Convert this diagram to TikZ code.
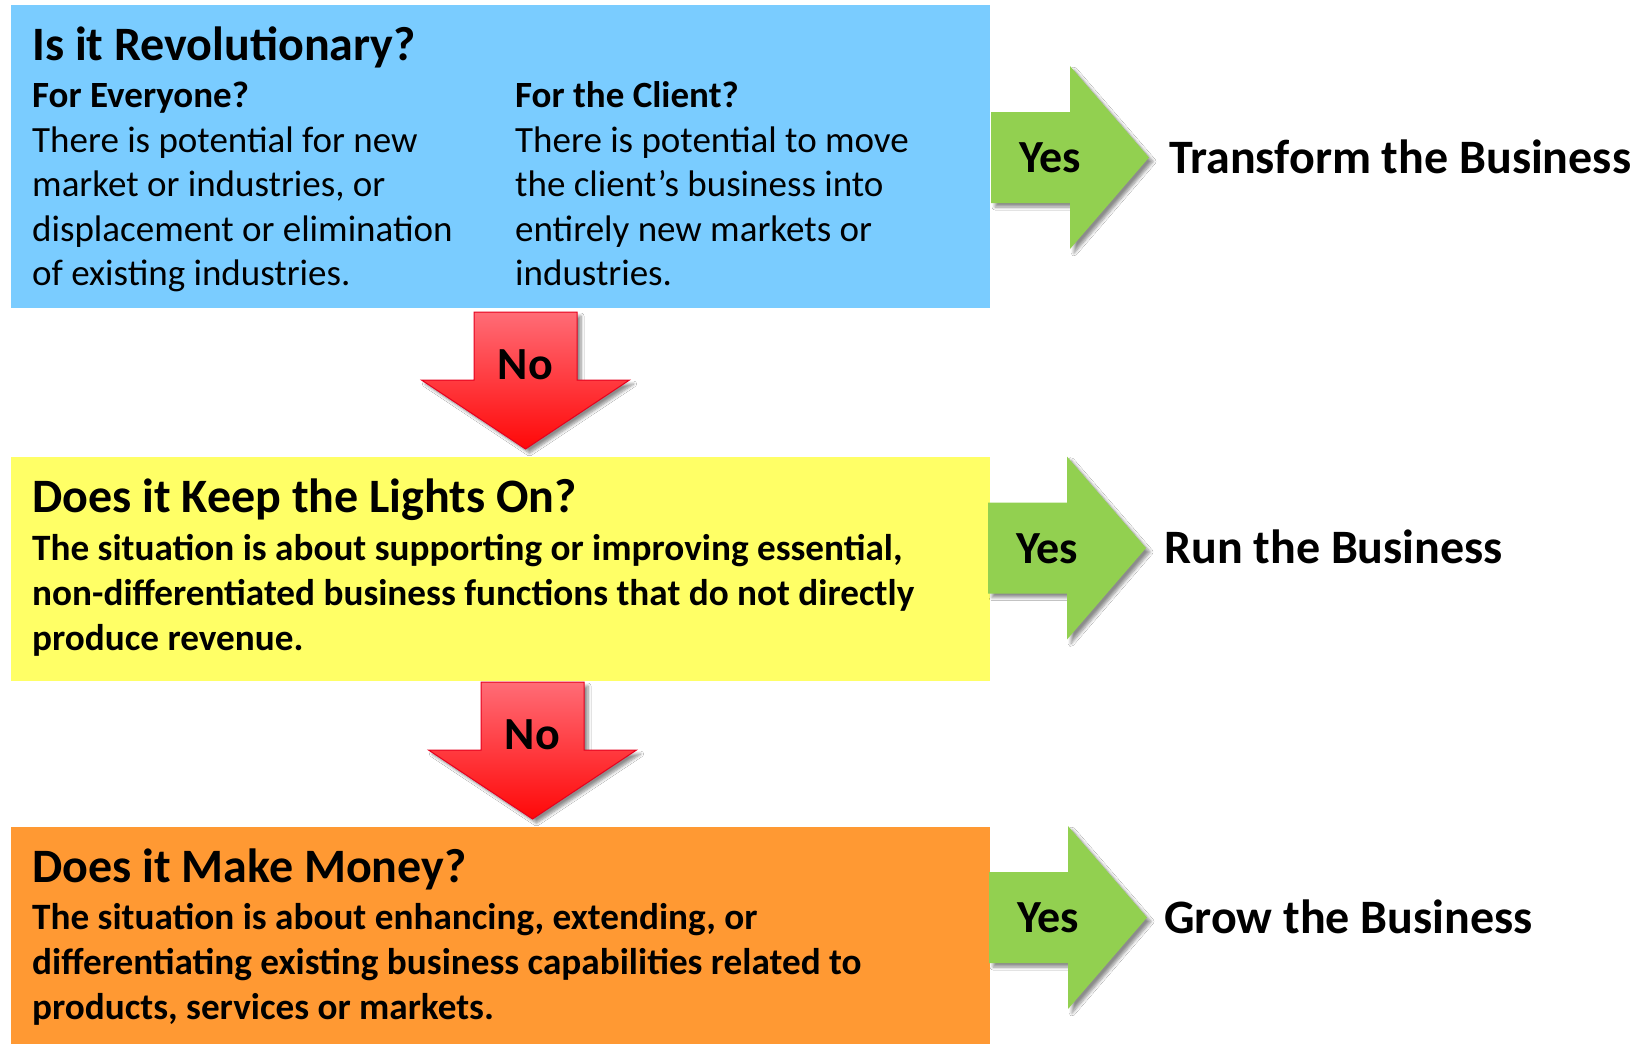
\documentclass[tikz,border=0pt]{standalone}
\usepackage{fontspec}
\setmainfont{Carlito}
\usetikzlibrary{shadows.blur}
\definecolor{boxblue}{RGB}{122,204,255}
\definecolor{boxyellow}{RGB}{255,255,102}
\definecolor{boxorange}{RGB}{255,153,51}
\definecolor{arrowgreen}{RGB}{146,208,80}
\definecolor{redtop}{RGB}{255,108,118}
\definecolor{redbot}{RGB}{255,8,8}
\definecolor{redline}{RGB}{230,0,30}
\begin{document}
\begin{tikzpicture}[x=1pt,y=-1pt,
  qbox/.style={draw=none, anchor=north west, inner sep=0pt, minimum width=979pt},
  ttl/.style={anchor=base west, inner sep=0pt, font=\bfseries\fontsize{48}{56}\selectfont},
  sub/.style={anchor=base west, inner sep=0pt, font=\bfseries\fontsize{37}{44.5}\selectfont},
  body/.style={anchor=base west, inner sep=0pt, align=left, font=\fontsize{37}{44.5}\selectfont},
  bbody/.style={anchor=base west, inner sep=0pt, align=left, font=\bfseries\fontsize{37.2}{44.6}\selectfont},
  obody/.style={anchor=base west, inner sep=0pt, align=left, font=\bfseries\fontsize{37.2}{45.2}\selectfont},
  result/.style={anchor=base west, inner sep=0pt, font=\bfseries\fontsize{48}{56}\selectfont},
  albl/.style={anchor=base, inner sep=0pt, font=\bfseries\fontsize{46}{52}\selectfont},
  yesshape/.style={fill=arrowgreen, blur shadow={shadow xshift=4pt, shadow yshift=-4pt, shadow opacity=45, shadow blur radius=3pt, shadow blur steps=6}},
  noshape/.style={top color=redtop, bottom color=redbot, draw=redline, line width=1pt, line join=miter, blur shadow={shadow xshift=4pt, shadow yshift=-4pt, shadow opacity=45, shadow blur radius=3pt, shadow blur steps=6}},
  pics/yesarrow/.style={code={
    \path[yesshape] (0,-45.5) -- (79,-45.5) -- (79,-91.5) -- (158,0) -- (79,91.5) -- (79,45.5) -- (0,45.5) -- cycle;
    \node[albl] (-lbl) at (59,15) {Yes};
  }},
  pics/noarrow/.style={code={
    \path[noshape] (-51.5,0) -- (51.5,0) -- (51.5,68) -- (104,68) -- (0,137) -- (-104,68) -- (-51.5,68) -- cycle;
    \node[albl] (-lbl) at (0,67) {No};
  }}]
\useasboundingbox (0,0) rectangle (1644,1045);
\fill[white] (0,0) rectangle (1644,1045);

% boxes
\node[qbox, fill=boxblue, minimum height=303pt] (q1) at (11,5) {};
\node[qbox, fill=boxyellow, minimum height=224pt] (q2) at (11,457) {};
\node[qbox, fill=boxorange, minimum height=217pt] (q3) at (11,827) {};

% box 1 text (multi-line nodes anchored at the baseline of their last line)
\node[ttl] (t1) at (32,60) {Is it Revolutionary?};
\node[sub] (s1a) at (32,107) {For Everyone?};
\node[body] (b1a) at (32,285.5) {There is potential for new\\market or industries, or\\displacement or elimination\\of existing industries.};
\node[sub] (s1b) at (515,107) {For the Client?};
\node[body] (b1b) at (515,285.5) {There is potential to move\\the client’s business into\\entirely new markets or\\industries.};

% box 2 text
\node[ttl] (t2) at (32,512) {Does it Keep the Lights On?};
\node[bbody] (b2) at (32,650) {The situation is about supporting or improving essential,\\non-differentiated business functions that do not directly\\produce revenue.};

% box 3 text
\node[ttl] (t3) at (32,882) {Does it Make Money?};
\node[obody] (b3) at (32,1019.5) {The situation is about enhancing, extending, or\\differentiating existing business capabilities related to\\products, services or markets.};

% yes arrows
\pic (y1) at (991,157.5) {yesarrow};
\pic (y2) at (988,548) {yesarrow};
\pic (y3) at (989,917.5) {yesarrow};

% no arrows
\pic (n1) at (525.5,312) {noarrow};
\pic (n2) at (532.5,682) {noarrow};

% results
\node[result] (r1) at (1169,173) {Transform the Business};
\node[result] (r2) at (1164,563.5) {Run the Business};
\node[result] (r3) at (1164,933) {Grow the Business};
\end{tikzpicture}
\end{document}
